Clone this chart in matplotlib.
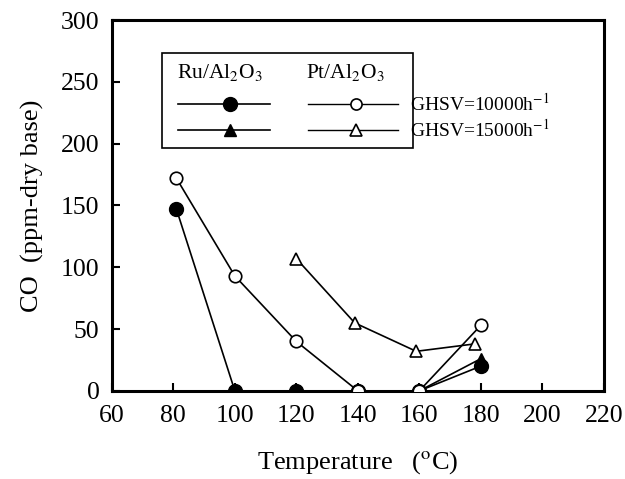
import matplotlib
matplotlib.use("Agg")
import matplotlib.pyplot as plt
from matplotlib.patches import Rectangle
from matplotlib.lines import Line2D

# CO outlet concentration vs temperature, two catalysts at two space velocities
ru_10000_t = [81, 100, 120, 140, 160, 180]
ru_10000_co = [147, 0, 0, 0, 0, 20]
ru_15000_t = [120, 140, 160, 180]
ru_15000_co = [0, 0, 0, 26]
pt_10000_t = [81, 100, 120, 140, 160, 180]
pt_10000_co = [172, 93, 40, 0, 0, 53]
pt_15000_t = [120, 139, 159, 178]
pt_15000_co = [107, 55, 32, 38]

x_ticks = [60, 80, 100, 120, 140, 160, 180, 200, 220]
y_ticks = [0, 50, 100, 150, 200, 250, 300]

plt.rcParams['font.family'] = ['Liberation Serif', 'DejaVu Serif']
plt.rcParams['mathtext.fontset'] = 'stix'

fig = plt.figure(figsize=(6.25, 4.79), dpi=100)
ax = fig.add_axes([0.179, 0.184, 0.787, 0.774])

ax.plot(ru_10000_t, ru_10000_co, color='black', lw=1.2, marker='o', ms=10,
        mfc='black', mec='black', zorder=3)
ax.plot(ru_15000_t, ru_15000_co, color='black', lw=1.2, marker='^', ms=8,
        mfc='black', mec='black', zorder=3)
ax.plot(pt_10000_t, pt_10000_co, color='black', lw=1.2, marker='o', ms=9,
        mfc='white', mec='black', mew=1.2, zorder=4)
ax.plot(pt_15000_t, pt_15000_co, color='black', lw=1.2, marker='^', ms=9,
        mfc='white', mec='black', mew=1.2, zorder=4)

ax.set_xlim(60, 220)
ax.set_ylim(0, 300)
ax.set_xticks(x_ticks)
ax.set_yticks(y_ticks)
ax.tick_params(direction='in', length=6, width=1.5, labelsize=18.5)
ax.tick_params(axis='x', pad=10)
ax.tick_params(axis='y', pad=9)
for s in ax.spines.values():
    s.set_linewidth(2.2)

ax.set_xlabel(r'Temperature   ($^{\rm o}$C)', fontsize=19, labelpad=16)
ax.set_ylabel('CO  (ppm-dry base)', fontsize=19, labelpad=12)

# hand-made legend box
tr = ax.transAxes
ax.add_patch(Rectangle((0.102, 0.655), 0.51, 0.256, transform=tr, fill=False,
                       lw=1.2, ec='black', zorder=5))
ax.text(0.22, 0.86, r'Ru/Al$_2$O$_3$', transform=tr, ha='center', va='center', fontsize=15.5)
ax.text(0.474, 0.86, r'Pt/Al$_2$O$_3$', transform=tr, ha='center', va='center', fontsize=15.5)

rows = [(0.774, 'o', r'GHSV=10000h$^{-1}$'), (0.704, '^', r'GHSV=15000h$^{-1}$')]
for y, m, label in rows:
    ax.add_line(Line2D([0.134, 0.321], [y, y], transform=tr, color='black', lw=1.2))
    ax.add_line(Line2D([0.24], [y], transform=tr, marker=m, ms=10 if m == 'o' else 8,
                       color='black', mfc='black'))
    ax.add_line(Line2D([0.398, 0.581], [y, y], transform=tr, color='black', lw=1.0))
    ax.add_line(Line2D([0.496], [y], transform=tr, marker=m, ms=8, color='black',
                       mfc='white', mew=1.2))
    ax.text(0.606, y, label, transform=tr, ha='left', va='center', fontsize=14)

fig.savefig('out.png', dpi=100)
